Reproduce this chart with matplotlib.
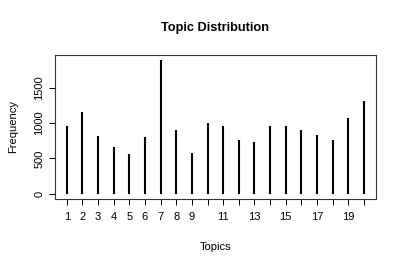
import numpy as np
import matplotlib
matplotlib.use("Agg")
import matplotlib.pyplot as plt

plt.rcParams['font.family'] = ['Liberation Sans', 'DejaVu Sans']

# topic frequencies
topics = list(range(1, 21))
freq = [960, 1160, 818, 668, 560, 809, 1891, 903, 578, 1002,
        959, 766, 734, 955, 959, 903, 828, 762, 1077, 1308]
y_ticks = [0, 500, 1000, 1500]
x_labels = ['1', '2', '3', '4', '5', '6', '7', '8', '9', '', '11', '',
            '13', '', '15', '', '17', '', '19', '']

fig = plt.figure(figsize=(4.04, 2.68), dpi=100)
ax = fig.add_axes([0.136, 0.2575, 0.794, 0.5375])

ax.vlines(topics, 0, freq, color='black', linewidth=1.5)

# R-style 4% padding
xpad = 0.04 * (max(topics) - min(topics))
ypad = 0.04 * max(freq)
ax.set_xlim(min(topics) - xpad, max(topics) + xpad)
ax.set_ylim(-ypad, max(freq) + ypad)

ax.set_xticks(topics)
ax.set_xticklabels(x_labels)
ax.set_yticks(y_ticks)
ax.set_yticklabels([str(v) for v in y_ticks], rotation=90, va='center')
ax.tick_params(direction='out', length=4, width=0.7, labelsize=8, pad=5.5)
ax.tick_params(axis='y', pad=3.5)
for s in ax.spines.values():
    s.set_linewidth(0.8)
    s.set_color('#333333')

ax.set_title('Topic Distribution', fontsize=9.2, fontweight='bold', pad=17)
ax.set_xlabel('Topics', fontsize=8, labelpad=14)
ax.set_ylabel('Frequency', fontsize=8, labelpad=12)

fig.savefig('out.png', dpi=100)
